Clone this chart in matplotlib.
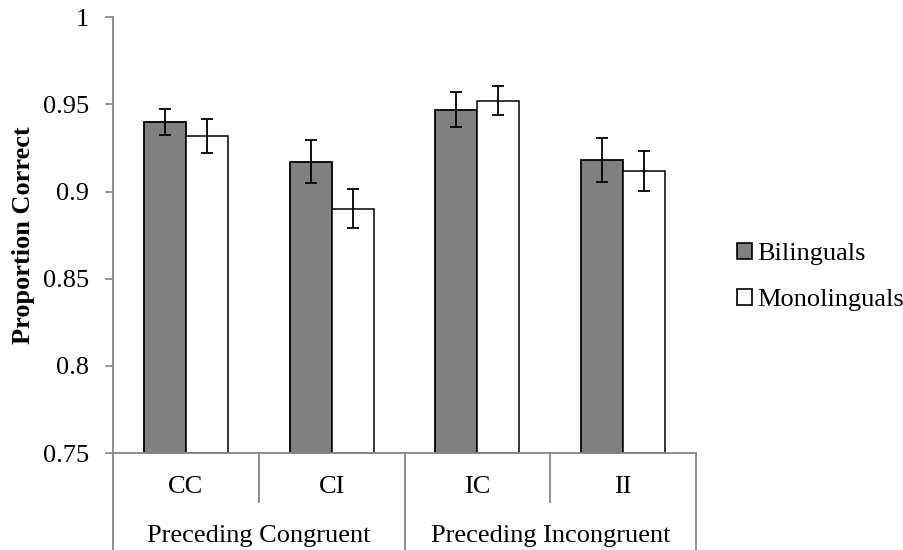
import matplotlib
matplotlib.use("Agg")
import matplotlib.pyplot as plt
import matplotlib.transforms as mtransforms
import numpy as np

conditions = ["CC", "CI", "IC", "II"]
groups = ["Preceding Congruent", "Preceding Incongruent"]
bilinguals = [0.940, 0.917, 0.947, 0.918]
bilinguals_err = [0.0075, 0.0123, 0.0101, 0.0125]
monolinguals = [0.932, 0.890, 0.952, 0.912]
monolinguals_err = [0.0097, 0.0112, 0.0082, 0.0115]
yticks = [0.75, 0.8, 0.85, 0.9, 0.95, 1.0]
ytick_labels = ["0.75", "0.8", "0.85", "0.9", "0.95", "1"]

plt.rcParams["font.family"] = ["Liberation Serif", "DejaVu Serif"]
AXIS_GRAY = "#868686"
FS = 19

fig = plt.figure(figsize=(9.04, 5.5), dpi=100)
ax = fig.add_axes([0.125, 0.176, 0.645, 0.793])

x = np.arange(len(conditions))
w = 0.288
err_kw = dict(ecolor="black", elinewidth=1.3, capsize=4.3, capthick=1.3)
ax.bar(x - w / 2, [b - 0.75 for b in bilinguals], w, bottom=0.75,
       yerr=bilinguals_err, color="#808080", edgecolor="black", linewidth=1.3,
       error_kw=err_kw, label="Bilinguals", zorder=2)
ax.bar(x + w / 2, [m - 0.75 for m in monolinguals], w, bottom=0.75,
       yerr=monolinguals_err, color="white", edgecolor="black", linewidth=1.1,
       error_kw=err_kw, label="Monolinguals", zorder=2)

ax.set_xlim(-0.5, len(conditions) - 0.5)
ax.set_ylim(0.75, 1.0)
ax.set_yticks(yticks)
ax.set_yticklabels(ytick_labels)
ax.set_xticks([])
ax.tick_params(axis="y", direction="out", length=6, width=1.2, color=AXIS_GRAY,
               pad=11, labelsize=FS)
for side in ["top", "right"]:
    ax.spines[side].set_visible(False)
for side in ["left", "bottom"]:
    ax.spines[side].set_color(AXIS_GRAY)
    ax.spines[side].set_linewidth(1.3)

ax.set_ylabel("Proportion Correct", fontsize=FS, fontweight="bold", labelpad=6)

# two-level category axis
trans = mtransforms.blended_transform_factory(ax.transData, ax.transAxes)
for i, c in enumerate(conditions):
    ax.text(i, -0.077, c, transform=trans, ha="center", va="center", fontsize=FS)
for k, g in enumerate(groups):
    ax.text(2 * k + 0.5, -0.19, g, transform=trans, ha="center", va="center",
            fontsize=FS)
for xs in [0.5, 2.5]:
    ax.plot([xs, xs], [0, -0.112], transform=trans, color=AXIS_GRAY, lw=1.3,
            clip_on=False)
for xs in [-0.5, 1.5, 3.5]:
    ax.plot([xs, xs], [0, -0.23], transform=trans, color=AXIS_GRAY, lw=1.3,
            clip_on=False)

leg = ax.legend(loc="center left", bbox_to_anchor=(1.07, 0.404), frameon=False,
                fontsize=FS, handlelength=0.57, handleheight=0.57,
                handletextpad=0.2, labelspacing=0.9, borderpad=0,
                borderaxespad=0)
for h in leg.legend_handles:
    h.set_linewidth(1.2)

fig.savefig("out.png", dpi=100)
